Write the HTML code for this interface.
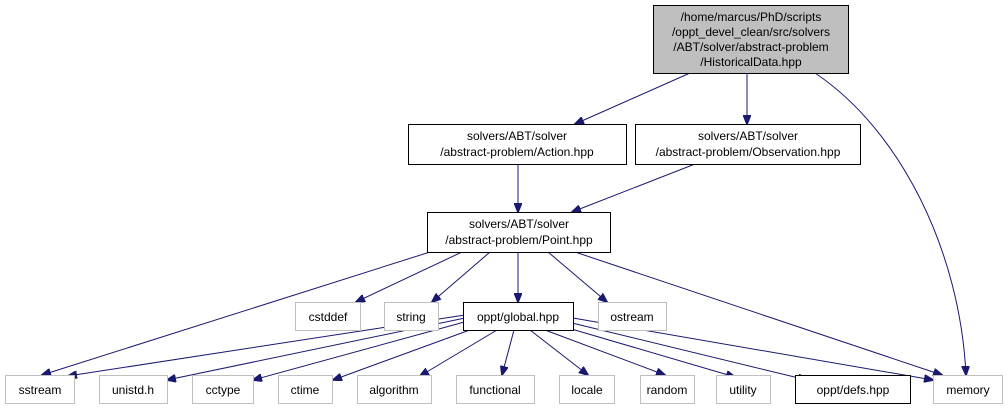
<!DOCTYPE html>
<html><head><meta charset="utf-8"><style>
body{margin:0;background:#fff;width:1008px;height:409px;overflow:hidden}
svg{display:block}
text{font-family:"Liberation Sans",Arial,sans-serif;font-size:12px;text-anchor:middle}
.g{fill:#fff;stroke:#bfbfbf;stroke-width:1}
.b{fill:#fff;stroke:#000;stroke-width:1}
.e{stroke:#191970;stroke-width:1;fill:none;marker-end:url(#a)}
</style></head><body>
<svg width="1008" height="409" viewBox="0 0 1008 409">
<defs><marker id="a" markerWidth="10" markerHeight="8" refX="9" refY="4" orient="auto" markerUnits="userSpaceOnUse"><path d="M0,0 L10,4 L0,8 z" fill="#191970" stroke="#191970"/></marker></defs>
<path class="e" d="M690,73 L575,124"/>
<path class="e" d="M747,73 L747,124"/>
<path class="e" d="M815,73 C900,130 960,250 966,375"/>
<path class="e" d="M518,164 L518,212"/>
<path class="e" d="M695,164 L572,212"/>
<path class="e" d="M430,252 L42,375"/>
<path class="e" d="M462,252 L356,302"/>
<path class="e" d="M490,252 L432,302"/>
<path class="e" d="M518,252 L518,302"/>
<path class="e" d="M548,252 L607,302"/>
<path class="e" d="M575,252 L942,375"/>
<path class="e" d="M465,315 L68,376"/>
<path class="e" d="M465,318 L167,380"/>
<path class="e" d="M468,321 L253,380"/>
<path class="e" d="M478,327 L333,380"/>
<path class="e" d="M497,330 L420,376"/>
<path class="e" d="M514,330 L502,375"/>
<path class="e" d="M530,330 L588,375"/>
<path class="e" d="M545,330 L665,375"/>
<path class="e" d="M568,328 L735,377"/>
<path class="e" d="M572,323 L807,380"/>
<path class="e" d="M573,318 L933,380"/>
<rect x="653.5" y="5.5" width="195" height="68" fill="#bfbfbf" stroke="#000"/>
<text x="751" y="21">/home/marcus/PhD/scripts</text>
<text x="751" y="36">/oppt_devel_clean/src/solvers</text>
<text x="751" y="51">/ABT/solver/abstract-problem</text>
<text x="751" y="66">/HistoricalData.hpp</text>
<rect class="b" x="408.5" y="124.5" width="218" height="40"/>
<text x="517" y="140">solvers/ABT/solver</text><text x="517" y="156">/abstract-problem/Action.hpp</text>
<rect class="b" x="635.5" y="124.5" width="225" height="40"/>
<text x="748" y="140">solvers/ABT/solver</text><text x="748" y="156">/abstract-problem/Observation.hpp</text>
<rect class="b" x="427.5" y="212.5" width="183" height="40"/>
<text x="519" y="228">solvers/ABT/solver</text><text x="519" y="244">/abstract-problem/Point.hpp</text>
<rect class="g" x="295.5" y="302.5" width="65" height="28"/><text x="328" y="321">cstddef</text>
<rect class="g" x="384.5" y="302.5" width="54" height="28"/><text x="411" y="321">string</text>
<rect class="b" x="463.5" y="302.5" width="110" height="28"/><text x="518" y="321">oppt/global.hpp</text>
<rect class="g" x="598.5" y="302.5" width="68" height="28"/><text x="632" y="321">ostream</text>
<rect class="g" x="5.5" y="375.5" width="69" height="28"/><text x="40" y="394">sstream</text>
<rect class="g" x="99.5" y="375.5" width="68" height="28"/><text x="133" y="394">unistd.h</text>
<rect class="g" x="192.5" y="375.5" width="61" height="28"/><text x="223" y="394">cctype</text>
<rect class="g" x="278.5" y="375.5" width="54" height="28"/><text x="305" y="394">ctime</text>
<rect class="g" x="357.5" y="375.5" width="74" height="28"/><text x="394" y="394">algorithm</text>
<rect class="g" x="456.5" y="375.5" width="78" height="28"/><text x="495" y="394">functional</text>
<rect class="g" x="559.5" y="375.5" width="55" height="28"/><text x="587" y="394">locale</text>
<rect class="g" x="640.5" y="375.5" width="54" height="28"/><text x="667" y="394">random</text>
<rect class="g" x="716.5" y="375.5" width="54" height="28"/><text x="743" y="394">utility</text>
<rect class="b" x="795.5" y="375.5" width="115" height="28"/><text x="853" y="394">oppt/defs.hpp</text>
<rect class="g" x="933.5" y="375.5" width="69" height="28"/><text x="968" y="394">memory</text>
</svg>
</body></html>
